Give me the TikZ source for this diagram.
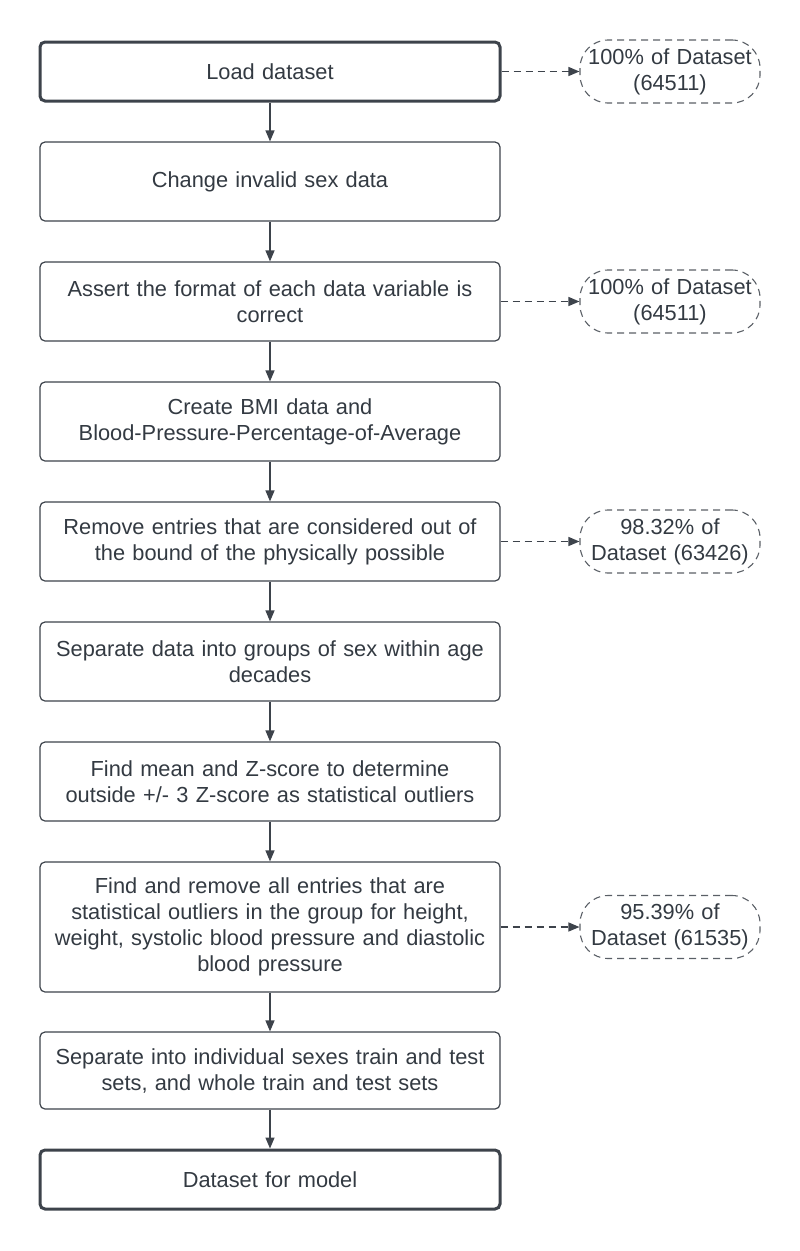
\documentclass[tikz,border=0pt]{standalone}
\usepackage{fontspec}
\setmainfont{Liberation Sans}
\usetikzlibrary{arrows.meta}
\definecolor{edge}{HTML}{3D434B}
\definecolor{txt}{HTML}{333A42}
\begin{document}
\begin{tikzpicture}[x=1pt,y=-1pt,
  font=\fontsize{21.8}{26}\selectfont, text=txt,
  stepbox/.style={draw=edge, line width=1.2pt, rounded corners=5pt, minimum width=460pt, text width=455pt, align=center, inner sep=0pt, fill=white},
  termbox/.style={stepbox, line width=3pt},
  note/.style={draw=edge!85, dashed, dash pattern=on 7pt off 5pt, line width=1.1pt, rounded corners=28pt, minimum width=180pt, minimum height=63pt, text width=180pt, align=center, inner sep=0pt},
  arr/.style={draw=edge, line width=1.3pt, -{Triangle[length=11pt,width=9pt]}},
  darr/.style={arr, dash pattern=on 7pt off 5pt}
]
\useasboundingbox (0,0) rectangle (800,1251);

\node[termbox, minimum height=59pt] (n1) at (270,71.5) {Load dataset};
\node[stepbox, minimum height=79pt] (n2) at (270,181.5) {Change invalid sex data};
\node[stepbox, minimum height=79pt] (n3) at (270,301.5) {Assert the format of each data variable is\\correct};
\node[stepbox, minimum height=79pt] (n4) at (270,421.5) {Create BMI data and\\Blood-Pressure-Percentage-of-Average};
\node[stepbox, minimum height=79pt] (n5) at (270,541.5) {Remove entries that are considered out of\\the bound of the physically possible};
\node[stepbox, minimum height=79pt] (n6) at (270,661.5) {Separate data into groups of sex within age\\decades};
\node[stepbox, minimum height=79pt] (n7) at (270,781.5) {Find mean and Z-score to determine\\outside +/- 3 Z-score as statistical outliers};
\node[stepbox, minimum height=130pt] (n8) at (270,927) {Find and remove all entries that are\\statistical outliers in the group for height,\\weight, systolic blood pressure and diastolic\\blood pressure};
\node[stepbox, minimum height=77pt] (n9) at (270,1070.5) {Separate into individual sexes train and test\\sets, and whole train and test sets};
\node[termbox, minimum height=59pt] (n10) at (270,1179.5) {Dataset for model};

\node[note] (a1) at (670,71.5) {100\% of Dataset\\(64511)};
\node[note] (a2) at (670,301.5) {100\% of Dataset\\(64511)};
\node[note] (a3) at (670,541.5) {98.32\% of\\Dataset (63426)};
\node[note] (a4) at (670,927) {95.39\% of\\Dataset (61535)};

\foreach \a/\b in {n1/n2,n2/n3,n3/n4,n4/n5,n5/n6,n6/n7,n7/n8,n8/n9,n9/n10}
  \draw[arr] (\a) -- (\b);

\draw[darr] (n1) -- (a1);
\draw[darr] (n3) -- (a2);
\draw[darr] (n5) -- (a3);
\draw[darr] (n8) -- (a4);
\end{tikzpicture}
\end{document}
